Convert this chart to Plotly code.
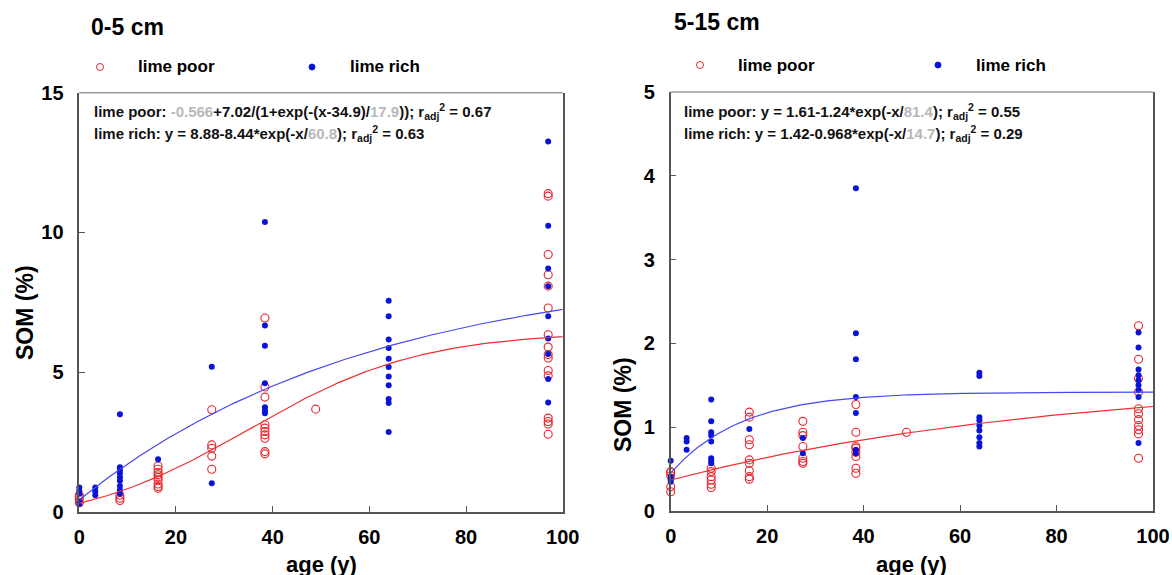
import numpy as np
import plotly.graph_objects as go

# ---- data ----
# sampling ages (years), shared by both depths
ages = [0, 3.3, 8.4, 16.3, 27.4, 38.4, 48.9, 64, 97]

# 0-5 cm, SOM (%) per age
top_poor = {0: [0.6, 0.55, 0.46, 0.33],
            8.4: [0.6, 0.49, 0.41],
            16.3: [1.65, 1.53, 1.41, 1.33, 1.24, 1.15, 1.0, 0.91, 0.85],
            27.4: [3.66, 2.4, 2.28, 2.0, 1.53],
            38.4: [6.94, 4.47, 4.11, 3.12, 3.0, 2.88, 2.76, 2.64, 2.16, 2.08],
            48.9: [3.68],
            97: [11.39, 11.3, 9.21, 8.49, 8.08, 7.3, 6.34, 5.9, 5.63, 5.51, 5.06, 4.87, 3.36, 3.24, 3.15, 2.78]}
top_rich = {0: [0.88, 0.76, 0.65, 0.37, 0.29],
            3.3: [0.88, 0.73, 0.6],
            8.4: [3.5, 1.6, 1.5, 1.39, 1.24, 1.12, 0.93, 0.79, 0.65],
            16.3: [1.89],
            27.4: [5.2, 1.03],
            38.4: [10.37, 6.67, 5.95, 4.61, 3.75, 3.63, 3.53],
            64: [7.56, 7.0, 6.17, 5.87, 5.48, 5.19, 4.85, 4.53, 4.04, 3.9, 2.86],
            97: [13.25, 10.24, 8.71, 8.08, 7.0, 6.21, 5.65, 4.76, 3.92]}

# 5-15 cm
sub_poor = {0: [0.47, 0.46, 0.42, 0.29, 0.23],
            8.4: [0.51, 0.47, 0.41, 0.37, 0.32, 0.28],
            16.3: [1.18, 1.12, 0.85, 0.79, 0.61, 0.57, 0.48, 0.41, 0.38],
            27.4: [1.07, 0.94, 0.9, 0.77, 0.63, 0.59, 0.57],
            38.4: [1.27, 0.94, 0.77, 0.75, 0.7, 0.65, 0.51, 0.45],
            48.9: [0.94],
            97: [2.21, 1.81, 1.58, 1.42, 1.22, 1.16, 1.09, 1.02, 0.97, 0.92, 0.63]}
sub_rich = {0: [0.6, 0.41, 0.38, 0.35],
            3.3: [0.87, 0.83, 0.73],
            8.4: [1.33, 1.07, 0.94, 0.9, 0.83, 0.63, 0.6, 0.57],
            16.3: [0.98],
            27.4: [0.87, 0.69],
            38.4: [3.85, 2.12, 1.81, 1.36, 1.17, 0.73, 0.69],
            64: [1.65, 1.61, 1.12, 1.08, 1.02, 0.96, 0.88, 0.81, 0.77],
            97: [2.13, 1.95, 1.69, 1.62, 1.56, 1.5, 1.44, 1.36, 0.81]}

# fitted curves, coefficients as printed in the panels
top_poor_fit = [-0.566, 7.02, 34.9, 17.9]   # a + b/(1+exp(-(x-x0)/c))
top_rich_fit = [8.88, 8.44, 60.8]           # a - b*exp(-x/c)
sub_poor_fit = [1.61, 1.24, 81.4]
sub_rich_fit = [1.42, 0.968, 14.7]
r2 = {'top_poor': 0.67, 'top_rich': 0.63, 'sub_poor': 0.55, 'sub_rich': 0.29}

x_ticks = [0, 20, 40, 60, 80, 100]
top_yticks = [0, 5, 10, 15]
sub_yticks = [0, 1, 2, 3, 4, 5]

RED = '#e8242c'
BLUE = '#0a14d8'
GREY = '#b8b8b8'
FONT = 'Liberation Sans'
W, H = 1172, 575


def flat(groups):
    xs, ys = [], []
    for age in ages:
        for v in groups.get(age, []):
            xs.append(age)
            ys.append(v)
    return xs, ys


def logistic(x, p):
    return p[0] + p[1] / (1 + np.exp(-(x - p[2]) / p[3]))


def expo(x, p):
    return p[0] - p[1] * np.exp(-x / p[2])


def px(x):
    return x / W


def py(y):
    return 1 - y / H


xfit = np.linspace(0, 100, 201)
fig = go.Figure()

panels = [
    ('x', 'y', top_poor, top_rich, logistic(xfit, top_poor_fit), expo(xfit, top_rich_fit)),
    ('x2', 'y2', sub_poor, sub_rich, expo(xfit, sub_poor_fit), expo(xfit, sub_rich_fit)),
]
for xa, ya, poor, rich, fpoor, frich in panels:
    xs, ys = flat(poor)
    fig.add_trace(go.Scatter(x=xs, y=ys, mode='markers', name='lime poor',
                             marker=dict(symbol='circle-open', size=8, color=RED, line=dict(width=1.1)),
                             xaxis=xa, yaxis=ya, cliponaxis=False))
    xs, ys = flat(rich)
    fig.add_trace(go.Scatter(x=xs, y=ys, mode='markers', name='lime rich',
                             marker=dict(symbol='circle', size=6, color=BLUE),
                             xaxis=xa, yaxis=ya, cliponaxis=False))
    fig.add_trace(go.Scatter(x=xfit, y=frich, mode='lines', line=dict(color='#4848f0', width=1.2),
                             xaxis=xa, yaxis=ya, hoverinfo='skip'))
    fig.add_trace(go.Scatter(x=xfit, y=fpoor, mode='lines', line=dict(color='#f03030', width=1.2),
                             xaxis=xa, yaxis=ya, hoverinfo='skip'))

tickfont = dict(family=FONT, size=20, color='black', weight='bold')
axis_common = dict(showline=True, linecolor='#555555', linewidth=1.5, ticks='inside', ticklen=6,
                   tickcolor='#555555', tickfont=tickfont, showgrid=False, zeroline=False,
                   automargin=False)

fig.update_layout(
    template='none', showlegend=False,
    width=W, height=H, margin=dict(l=0, r=0, t=0, b=0, pad=0), autosize=False,
    plot_bgcolor='white', paper_bgcolor='white',
    xaxis=dict(domain=[px(79.3), px(562.7)], range=[0, 100], tickvals=x_ticks, anchor='y',
               ticklabelstandoff=6, **axis_common),
    yaxis=dict(domain=[py(512), py(92.7)], range=[0, 15], tickvals=top_yticks, anchor='x',
               mirror=True, ticklabelstandoff=10, **axis_common),
    xaxis2=dict(domain=[px(670.7), px(1153)], range=[0, 100], tickvals=x_ticks, anchor='y2',
                ticklabelstandoff=6, **axis_common),
    yaxis2=dict(domain=[py(511), py(92)], range=[0, 5], tickvals=sub_yticks, anchor='x2',
                mirror=True, ticklabelstandoff=10, **axis_common),
)

# light grey top edge of each frame
for x0, x1, y0 in [(79.3, 562.7, 92.7), (670.7, 1153, 92)]:
    fig.add_shape(type='line', xref='paper', yref='paper', x0=px(x0), x1=px(x1), y0=py(y0), y1=py(y0),
                  line=dict(color='#9a9a9a', width=1.5))

# hand-made legends: symbol + label per panel
legend_items = [
    (100, 67, 'open', 'lime poor'), (312, 67, 'dot', 'lime rich'),
    (700, 65, 'open', 'lime poor'), (938, 65, 'dot', 'lime rich'),
]
for x, y, kind, label in legend_items:
    r = 3.5 if kind == 'open' else 3
    fig.add_shape(type='circle', xref='paper', yref='paper', xsizemode='pixel', ysizemode='pixel',
                  xanchor=px(x), yanchor=py(y), x0=-r, x1=r, y0=-r, y1=r,
                  line=dict(color=RED if kind == 'open' else BLUE, width=1),
                  fillcolor='rgba(0,0,0,0)' if kind == 'open' else BLUE)
    fig.add_annotation(x=px(x + 36), y=py(y), xref='paper', yref='paper', xanchor='left', yanchor='middle',
                       text=label, showarrow=False,
                       font=dict(family=FONT, size=17, color='black', weight='bold'))


def g(v):
    return f"<span style='color:{GREY}'>{v}</span>"


eq = [
    (92, 112, f"lime poor: {g(top_poor_fit[0])}+{top_poor_fit[1]}/(1+exp(-(x-{top_poor_fit[2]})/{g(top_poor_fit[3])})); "
              f"r<sub>adj</sub><sup>2</sup> = {r2['top_poor']}"),
    (92, 133, f"lime rich: y = {top_rich_fit[0]}-{top_rich_fit[1]}*exp(-x/{g(top_rich_fit[2])}); "
              f"r<sub>adj</sub><sup>2</sup> = {r2['top_rich']}"),
    (682, 112, f"lime poor: y = {sub_poor_fit[0]}-{sub_poor_fit[1]}*exp(-x/{g(sub_poor_fit[2])}); "
               f"r<sub>adj</sub><sup>2</sup> = {r2['sub_poor']}"),
    (682, 133, f"lime rich: y = {sub_rich_fit[0]}-{sub_rich_fit[1]}*exp(-x/{g(sub_rich_fit[2])}); "
               f"r<sub>adj</sub><sup>2</sup> = {r2['sub_rich']}"),
]
for x, y, t in eq:
    fig.add_annotation(x=px(x), y=py(y), xref='paper', yref='paper', xanchor='left', yanchor='middle',
                       text=t, showarrow=False, font=dict(family=FONT, size=15, color='#111111', weight='bold'))

labels = [
    (89, 27, '0-5 cm', 23, 'left', 0),
    (672, 22, '5-15 cm', 23, 'left', 0),
    (321, 564, 'age (y)', 22, 'center', 0),
    (911, 564, 'age (y)', 22, 'center', 0),
    (25, 313, 'SOM (%)', 23, 'center', -90),
    (623, 405, 'SOM (%)', 23, 'center', -90),
]
for x, y, t, s, anc, ang in labels:
    fig.add_annotation(x=px(x), y=py(y), xref='paper', yref='paper', xanchor=anc, yanchor='middle',
                       text=t, showarrow=False, textangle=ang,
                       font=dict(family=FONT, size=s, color='black', weight='bold'))

# the page's default 8px body margin would push the figure off its frame
fig.write_html("out.html", config={'displayModeBar': False},
               post_script="document.body.style.margin='0';")
